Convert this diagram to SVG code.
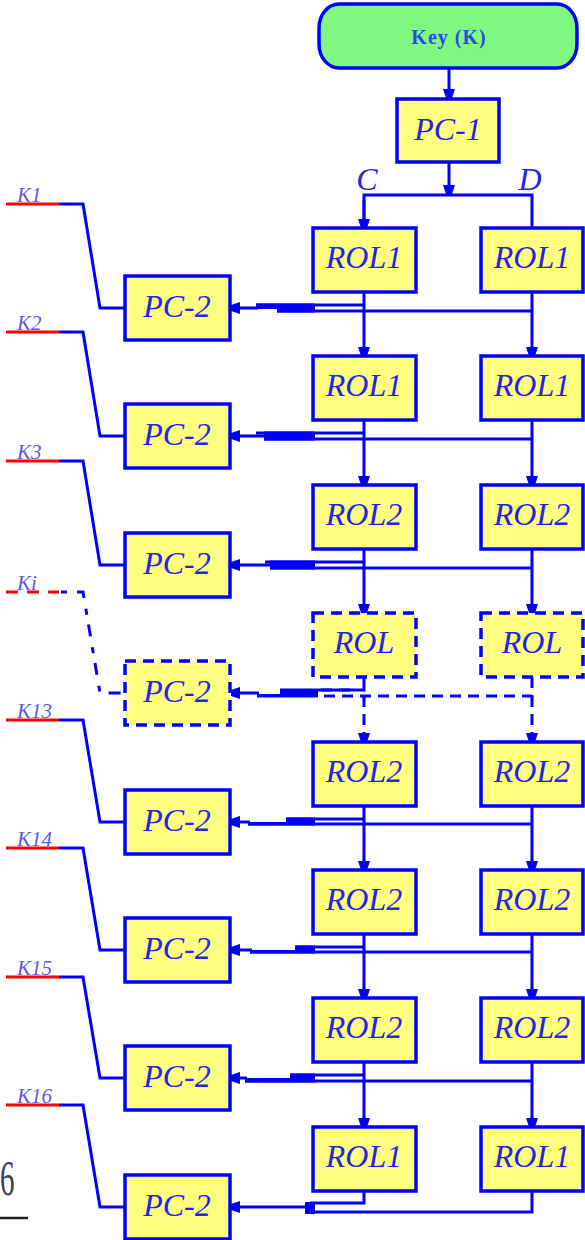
<svg xmlns="http://www.w3.org/2000/svg" width="585" height="1240" viewBox="0 0 585 1240">
  <style>
    .box { fill: #ffff80; stroke: #0000ff; stroke-width: 3.5; }
    .dash { stroke-dasharray: 11 7; }
    .t { font-family: "Liberation Serif", serif; font-style: italic; font-size: 32px; fill: #2424e8; text-anchor: middle; }
    .kl { font-family: "Liberation Serif", serif; font-style: italic; font-size: 21px; fill: #5858f0; }
    .w { fill: none; stroke: #0000ff; stroke-width: 3; }
    .red { fill: none; stroke: #ff0000; stroke-width: 3; }
    .blk { fill: #0000ff; }
  </style>
  <defs>
    <marker id="ah" markerWidth="12" markerHeight="14" refX="9" refY="7" orient="auto" markerUnits="userSpaceOnUse">
      <path d="M0,1 L9,4 L9,10 L0,13 z" fill="#0000ff"/>
    </marker>
  </defs>

  <!-- connectors -->
  <g id="connectors">
    <!-- key -> PC-1 -> split into C and D -->
    <path class="w" d="M449,68 V98" marker-end="url(#ah)"/>
    <path class="w" d="M449,163 V194" marker-end="url(#ah)"/>
    <path class="w" d="M364,228 V195 H532 V228"/>
    <path class="w" d="M364,200 V228" marker-end="url(#ah)"/>

    <!-- shift chain, left (C) and right (D) columns -->
    <path class="w" d="M364,292 V356" marker-end="url(#ah)"/>
    <path class="w" d="M532,292 V356" marker-end="url(#ah)"/>
    <path class="w" d="M364,420 V485" marker-end="url(#ah)"/>
    <path class="w" d="M532,420 V485" marker-end="url(#ah)"/>
    <path class="w" d="M364,549 V613" marker-end="url(#ah)"/>
    <path class="w" d="M532,549 V613" marker-end="url(#ah)"/>
    <path class="w dash" d="M364,696 V742" marker-end="url(#ah)"/>
    <path class="w dash" d="M532,696 V742" marker-end="url(#ah)"/>
    <path class="w" d="M364,806 V870" marker-end="url(#ah)"/>
    <path class="w" d="M532,806 V870" marker-end="url(#ah)"/>
    <path class="w" d="M364,934 V998" marker-end="url(#ah)"/>
    <path class="w" d="M532,934 V998" marker-end="url(#ah)"/>
    <path class="w" d="M364,1062 V1127" marker-end="url(#ah)"/>
    <path class="w" d="M532,1062 V1127" marker-end="url(#ah)"/>

    <!-- C,D taps feeding each PC-2 -->
    <g id="tap1">
      <path class="w" d="M364,305 H256"/>
      <path class="w" d="M532,311 H277"/>
      <path class="blk" d="M256,303.5 H315 V312.5 H277 V309 H256 z"/>
      <path class="w" d="M258,308 H231" marker-end="url(#ah)"/>
    </g>
    <g id="tap2">
      <path class="w" d="M364,433 H256"/>
      <path class="w" d="M532,439 H264"/>
      <path class="blk" d="M264,431.5 H315 V440.5 H264 z"/>
      <path class="w" d="M266,436 H231" marker-end="url(#ah)"/>
    </g>
    <g id="tap3">
      <path class="w" d="M364,562 H265"/>
      <path class="w" d="M532,568 H270"/>
      <path class="blk" d="M270,560.5 H315 V569.5 H270 z"/>
      <path class="w" d="M272,565 H231" marker-end="url(#ah)"/>
    </g>
    <g id="tap4">
      <path class="w" d="M364,677 V690 H318"/>
      <path class="w dash" d="M532,677 V696 H318"/>
      <path class="w dash" d="M350,690 H318"/>
      <path class="blk" d="M280,688.5 H318 V697.5 H257 V694 H280 z"/>
      <path class="w" d="M259,693 H231" marker-end="url(#ah)"/>
    </g>
    <g id="tap5">
      <path class="w" d="M364,819 H286"/>
      <path class="w" d="M532,824 H248"/>
      <path class="blk" d="M286,817.5 H315 V825.5 H248 V822 H286 z"/>
      <path class="w" d="M250,822 H231" marker-end="url(#ah)"/>
    </g>
    <g id="tap6">
      <path class="w" d="M364,947 H295"/>
      <path class="w" d="M532,952 H250"/>
      <path class="blk" d="M295,945.5 H315 V953.5 H250 V950 H295 z"/>
      <path class="w" d="M252,950 H231" marker-end="url(#ah)"/>
    </g>
    <g id="tap7">
      <path class="w" d="M364,1075 H290"/>
      <path class="w" d="M532,1081 H245"/>
      <path class="blk" d="M290,1073.5 H315 V1082.5 H245 V1078 H290 z"/>
      <path class="w" d="M247,1078 H231" marker-end="url(#ah)"/>
    </g>
    <g id="tap8">
      <path class="w" d="M364,1191 V1203 H310"/>
      <path class="w" d="M532,1191 V1212 H305"/>
      <rect class="blk" x="305" y="1202" width="10" height="12"/>
      <path class="w" d="M307,1207 H231" stroke-width="5" marker-end="url(#ah)"/>
    </g>

    <!-- subkey outputs: PC-2 -> K lines -->
    <path class="red" d="M6,204 H59"/>
    <path class="w" d="M59,204 H83 L100,308 H125"/>
    <path class="red" d="M6,332 H59"/>
    <path class="w" d="M59,332 H83 L100,436 H125"/>
    <path class="red" d="M6,461 H59"/>
    <path class="w" d="M59,461 H83 L100,565 H125"/>
    <path class="red" d="M6,592 H59" stroke-dasharray="12 9"/>
    <path class="w" d="M59,592 H83 L100,693 H125" stroke-dasharray="0 2 6 10 12 9"/>
    <path class="red" d="M6,720 H59"/>
    <path class="w" d="M59,720 H83 L100,822 H125"/>
    <path class="red" d="M6,848 H59"/>
    <path class="w" d="M59,848 H83 L100,950 H125"/>
    <path class="red" d="M6,977 H59"/>
    <path class="w" d="M59,977 H83 L100,1078 H125"/>
    <path class="red" d="M6,1105 H59"/>
    <path class="w" d="M59,1105 H83 L100,1207 H125"/>
  </g>

  <!-- key input -->
  <g id="key">
    <rect x="319" y="4" width="258" height="64" rx="20" ry="24" fill="#80f880" stroke="#0000ff" stroke-width="3.5"/>
    <text x="449" y="44" font-family="Liberation Serif, serif" font-weight="bold" font-size="20" letter-spacing="1" fill="#2a4ae0" text-anchor="middle">Key (K)</text>
  </g>

  <g id="pc1">
    <rect class="box" x="397" y="99" width="102" height="63"/>
    <text class="t" x="448" y="140">PC-1</text>
  </g>
  <text class="t" x="367" y="190" font-size="30">C</text>
  <text class="t" x="530" y="190" font-size="30">D</text>

  <!-- rotation stages -->
  <g id="rol-c1"><rect class="box" x="313" y="228" width="103" height="64"/><text class="t" x="364" y="268">ROL1</text></g>
  <g id="rol-d1"><rect class="box" x="481" y="228" width="102" height="64"/><text class="t" x="532" y="268">ROL1</text></g>
  <g id="rol-c2"><rect class="box" x="313" y="356" width="103" height="64"/><text class="t" x="364" y="396">ROL1</text></g>
  <g id="rol-d2"><rect class="box" x="481" y="356" width="102" height="64"/><text class="t" x="532" y="396">ROL1</text></g>
  <g id="rol-c3"><rect class="box" x="313" y="485" width="103" height="64"/><text class="t" x="364" y="525">ROL2</text></g>
  <g id="rol-d3"><rect class="box" x="481" y="485" width="102" height="64"/><text class="t" x="532" y="525">ROL2</text></g>
  <g id="rol-ci"><rect class="box dash" x="313" y="613" width="103" height="64"/><text class="t" x="364" y="653">ROL</text></g>
  <g id="rol-di"><rect class="box dash" x="481" y="613" width="102" height="64"/><text class="t" x="532" y="653">ROL</text></g>
  <g id="rol-c13"><rect class="box" x="313" y="742" width="103" height="64"/><text class="t" x="364" y="782">ROL2</text></g>
  <g id="rol-d13"><rect class="box" x="481" y="742" width="102" height="64"/><text class="t" x="532" y="782">ROL2</text></g>
  <g id="rol-c14"><rect class="box" x="313" y="870" width="103" height="64"/><text class="t" x="364" y="910">ROL2</text></g>
  <g id="rol-d14"><rect class="box" x="481" y="870" width="102" height="64"/><text class="t" x="532" y="910">ROL2</text></g>
  <g id="rol-c15"><rect class="box" x="313" y="998" width="103" height="64"/><text class="t" x="364" y="1038">ROL2</text></g>
  <g id="rol-d15"><rect class="box" x="481" y="998" width="102" height="64"/><text class="t" x="532" y="1038">ROL2</text></g>
  <g id="rol-c16"><rect class="box" x="313" y="1127" width="103" height="64"/><text class="t" x="364" y="1167">ROL1</text></g>
  <g id="rol-d16"><rect class="box" x="481" y="1127" width="102" height="64"/><text class="t" x="532" y="1167">ROL1</text></g>

  <!-- compression permutations -->
  <g id="pc2-1"><rect class="box" x="125" y="276" width="105" height="64"/><text class="t" x="177" y="317">PC-2</text></g>
  <g id="pc2-2"><rect class="box" x="125" y="404" width="105" height="64"/><text class="t" x="177" y="445">PC-2</text></g>
  <g id="pc2-3"><rect class="box" x="125" y="533" width="105" height="64"/><text class="t" x="177" y="574">PC-2</text></g>
  <g id="pc2-i"><rect class="box dash" x="125" y="661" width="105" height="64"/><text class="t" x="177" y="702">PC-2</text></g>
  <g id="pc2-13"><rect class="box" x="125" y="790" width="105" height="64"/><text class="t" x="177" y="831">PC-2</text></g>
  <g id="pc2-14"><rect class="box" x="125" y="918" width="105" height="64"/><text class="t" x="177" y="959">PC-2</text></g>
  <g id="pc2-15"><rect class="box" x="125" y="1046" width="105" height="64"/><text class="t" x="177" y="1087">PC-2</text></g>
  <g id="pc2-16"><rect class="box" x="125" y="1175" width="105" height="64"/><text class="t" x="177" y="1216">PC-2</text></g>

  <!-- subkey labels -->
  <g id="labels">
    <text class="kl" x="17" y="202">K1</text>
    <text class="kl" x="17" y="330">K2</text>
    <text class="kl" x="17" y="459">K3</text>
    <text class="kl" x="17" y="590">Ki</text>
    <text class="kl" x="17" y="718">K13</text>
    <text class="kl" x="17" y="846">K14</text>
    <text class="kl" x="17" y="975">K15</text>
    <text class="kl" x="17" y="1103">K16</text>
  </g>

  <!-- page number -->
  <text x="0" y="1195" font-family="Liberation Serif, serif" font-size="50" fill="#404060" transform="scale(0.58,1)">6</text>
  <path d="M0,1218 H28" stroke="#202020" stroke-width="2.5"/>
</svg>
